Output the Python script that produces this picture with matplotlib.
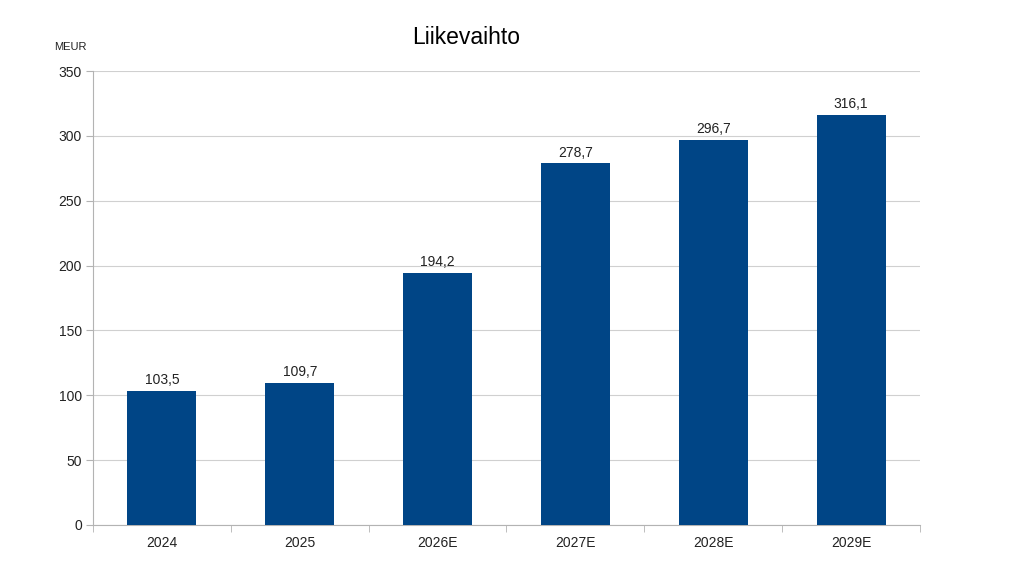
import matplotlib
matplotlib.use("Agg")
import matplotlib.pyplot as plt
import numpy as np

categories = ["2024", "2025", "2026E", "2027E", "2028E", "2029E"]
values = [103.5, 109.7, 194.2, 278.7, 296.7, 316.1]
labels = ["103,5", "109,7", "194,2", "278,7", "296,7", "316,1"]
yticks = [0, 50, 100, 150, 200, 250, 300, 350]

plt.rcParams['font.family'] = ['Liberation Sans', 'DejaVu Sans']

fig = plt.figure(figsize=(10.24, 5.76), dpi=100)
ax = fig.add_axes([93/1024, 1-525/576, (920-93)/1024, (525-71)/576])

x = np.arange(len(categories))
ax.bar(x, values, width=0.5, color="#004586", zorder=3)
for xi, v, lab in zip(x, values, labels):
    ax.text(xi, v + 3, lab, ha="center", va="bottom", fontsize=10, color="#222222")

ax.set_xlim(-0.5, len(categories) - 0.5)
ax.set_ylim(0, 350)
ax.set_yticks(yticks)
ax.set_xticks(x)
ax.set_xticklabels(categories)
ax.set_xticks(np.arange(len(categories) + 1) - 0.5, minor=True)
ax.grid(axis="y", color="#d0d0d0", linewidth=0.8, zorder=0)
for s in ["top", "right"]:
    ax.spines[s].set_visible(False)
for s in ["left", "bottom"]:
    ax.spines[s].set_color("#b3b3b3")
    ax.spines[s].set_linewidth(0.8)
ax.tick_params(axis="y", length=5, color="#b3b3b3", labelsize=10, labelcolor="#222222", pad=3)
ax.tick_params(axis="x", which="major", length=0, labelsize=10, labelcolor="#222222", pad=8)
ax.tick_params(axis="x", which="minor", length=5, color="#b3b3b3")

fig.text(466/1024, 1-37/576, "Liikevaihto", ha="center", va="center", fontsize=16.5, color="#000000")
fig.text(54/1024, 1-47/576, "MEUR", ha="left", va="center", fontsize=8, color="#222222")

fig.savefig("out.png", dpi=100, facecolor="white")
